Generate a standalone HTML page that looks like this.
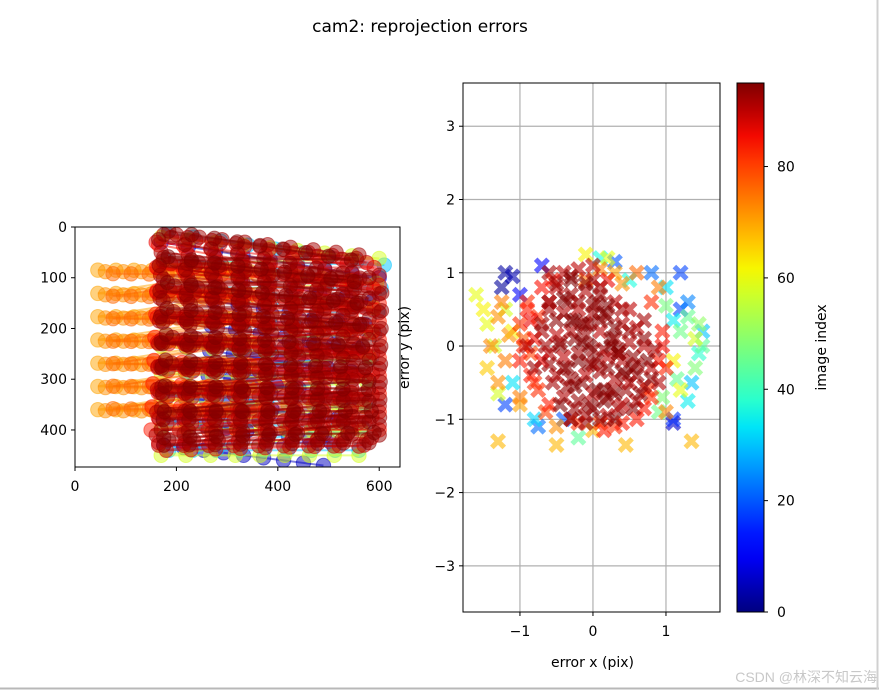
<!DOCTYPE html>
<html><head><meta charset="utf-8">
<style>
html,body{margin:0;padding:0;background:#fff;}
svg{display:block;font-family:"DejaVu Sans","Liberation Sans","Noto Sans CJK SC",sans-serif;}
</style></head>
<body>
<svg id="fig" width="879" height="691" viewBox="0 0 879 691" xmlns="http://www.w3.org/2000/svg">
  <rect x="0" y="0" width="879" height="691" fill="#fff"/>
  <line x1="0" y1="688.5" x2="879" y2="688.5" stroke="#b8b8b8" stroke-width="2"/>
  <line x1="877.5" y1="0" x2="877.5" y2="689" stroke="#d0d0d0" stroke-width="2"/>
  <text x="420" y="32" font-size="17" text-anchor="middle" fill="#000">cam2: reprojection errors</text>
  <defs>
    <clipPath id="clipL"><rect x="75" y="227" width="325" height="240"/></clipPath>
    <clipPath id="clipR"><rect x="463" y="83" width="257" height="529"/></clipPath>
    <linearGradient id="jetGrad" x1="0" y1="1" x2="0" y2="0"></linearGradient>
  </defs>
  <g id="leftPlot"></g>
  <g id="rightPlot"></g>
  <g id="cbar"></g>
  <text x="877" y="682" font-size="14" text-anchor="end" fill="#c8c8c8" font-family="Liberation Sans, Noto Sans CJK SC, sans-serif">CSDN @林深不知云海</text>
</svg>
<script>
// ---------- data ----------
// left plot: checkerboard detections per image [imageIndex]
const boardIndex = [5, 30, 58, 70, 72, 76, 84, 86, 88, 90, 91, 92, 93, 94, 95];
// corners in pixel coords: top-left, top-right, bottom-left, bottom-right (x,y)
const boardTL = [[170,30],[180,12],[170,20],[45,85],[60,88],[75,92],[165,35],[160,30],[190,20],[175,15],[170,50],[200,15],[175,60],[165,25],[185,8]];
const boardTR = [[600,100],[610,75],[600,62],[330,86],[345,88],[360,95],[600,115],[590,80],[575,70],[555,62],[600,95],[560,55],[605,130],[580,100],[545,65]];
const boardBL = [[175,430],[185,440],[170,450],[45,360],[60,362],[75,358],[150,400],[165,425],[180,440],[165,430],[160,410],[185,420],[170,400],[175,430],[175,415]];
const boardBR = [[490,470],[560,440],[560,450],[330,362],[345,364],[360,362],[600,400],[585,415],[570,430],[560,432],[600,390],[575,420],[600,410],[580,425],[590,405]];
const boardRows = [9,9,9,7,7,7,9,9,9,9,9,9,9,9,9];
const gridCols = 9;
// right plot: reprojection errors (pix) with image index
const errX = [-1.2,-1.1,-1.25,1.1,-1.0,-0.7,
 1.2,1.2,0.3,-1.2,-0.4,1.1,0.8,1.3,-0.75,
 1.0,1.1,1.5,-1.1,0.1,-0.8,1.3,0.5,1.45,1.35,
 1.3,1.2,1.5,1.4,-0.2,0.9,1.0,1.15,1.45,0.95,
 -1.6,-1.45,-1.2,-1.1,-1.3,-0.1,0.2,1.2,1.4,1.1,-1.5,-1.35,
 -1.3,-0.5,0.45,1.35,-1.0,0.0,0.3,-1.45,
 -1.3,-1.4,-1.2,-1.3,-0.1,0.1,0.4,-1.0,-0.5,1.0,0.9,-1.15,-1.25,0.6,
 -1.0,-0.9,-0.8,-0.6,-0.3,0.3,0.6,0.8,1.0,-1.0,0.2,-0.7,-0.95,0.95,0.75,-0.85,0.15,
 -0.95,-0.85,-0.75,-0.9,-0.8,-0.7,-0.85,-0.75,-0.65,-0.55,-0.6,0.9,0.95,0.8,0.7,0.1,-0.2,0.4,
 -0.4,-0.2,0,-0.5,-0.3,-0.1,0.1,0.3,-0.6,-0.4,-0.2,0,0.2,0.4,0.6,-0.7,-0.5,-0.3,-0.1,0.1,0.3,0.5,0.7,0.85,
 -0.6,-0.4,-0.2,0,0.2,0.4,0.6,0.8,-0.5,-0.3,-0.1,0.1,0.3,0.5,0.7,-0.4,-0.2,0,0.2,0.4,0.6,-0.1,0.2,-0.8,-0.9,0.0,-0.6,0.9,0.5,0.7,
 -0.35,-0.15,0.05,0.25,-0.45,-0.25,-0.05,0.15,0.35,0.55,-0.35,-0.15,0.05,0.25,0.45,-0.25,-0.05,0.15,0.35,-0.3,0.0,0.3,
 -0.5,-0.3,-0.1,0.1,-0.6,-0.4,-0.2,0.0,0.2,0.4,-0.7,-0.5,-0.3,-0.1,0.1,0.3,0.5,0.7,-0.65,-0.45,-0.25,-0.05,0.15,0.35,0.55,0.75,-0.6,-0.4,-0.2,0.0,0.2,0.4,0.6,0.8,-0.55,-0.35,-0.15,0.05,0.25,0.45,0.65,-0.45,-0.25,-0.05,0.15,0.35,0.55,-0.3,-0.1,0.1,0.3];
const errY = [1.0,0.95,0.8,-1.05,0.7,1.1,
 0.5,1.0,1.15,-0.8,-1.0,-1.0,1.0,0.6,-1.1,
 0.8,0.35,0.2,-0.5,1.2,-1.0,-0.75,0.9,-0.1,-0.5,
 0.4,0.2,0.0,-0.3,-1.25,-0.9,0.55,-0.45,0.3,-0.7,
 0.7,0.3,0.5,0.2,-0.65,1.25,1.2,-0.6,0.1,-0.2,0.5,0.0,
 -1.3,-1.35,-1.35,-1.3,-0.8,-1.15,1.0,-0.3,
 0.4,0.0,-0.2,-0.5,0.9,1.05,0.85,-0.7,-1.1,-0.9,0.8,0.15,0.6,1.0,
 0.3,0.6,-0.5,-0.8,-1.0,-1.1,-1.0,0.6,-0.3,-0.2,0.9,0.8,0.0,0.2,-0.6,0.35,-1.15,
 0.1,-0.1,0.4,0.5,0.1,-0.2,-0.4,-0.6,-0.9,0.9,0.6,-0.2,0.0,-0.7,-0.85,-1.05,-1.05,-1.05,
 1.0,1.05,0.9,0.8,0.7,0.75,0.7,0.6,0.5,0.45,0.5,0.45,0.4,0.3,0.25,0.2,0.15,0.2,0.15,0.2,0.1,0.05,0.0,-0.05,
 -0.1,-0.15,-0.1,-0.05,-0.15,-0.2,-0.25,-0.3,-0.4,-0.45,-0.4,-0.35,-0.45,-0.5,-0.55,-0.7,-0.75,-0.65,-0.7,-0.8,-0.75,-0.95,-0.95,-0.3,0.0,1.1,1.0,-0.5,0.5,0.35,
 0.6,0.3,0.6,0.1,0.0,0.35,-0.25,0.45,-0.05,-0.3,-0.3,0.05,-0.2,0.0,-0.4,-0.55,0.3,-0.6,-0.1,0.9,-0.85,-0.65,
 0.85,0.95,0.85,0.8,0.6,0.65,0.6,0.55,0.55,0.5,0.3,0.35,0.35,0.3,0.35,0.25,0.2,0.1,0.0,0.05,0.1,0.0,-0.05,-0.1,-0.15,-0.2,-0.25,-0.3,-0.2,-0.25,-0.3,-0.35,-0.4,-0.45,-0.5,-0.55,-0.5,-0.6,-0.6,-0.6,-0.65,-0.8,-0.85,-0.8,-0.75,-0.85,-0.85,-1.0,-1.05,-1.0,-1.0];
const errIdx = [3,4,2,6,10,12,
 18,18,20,18,20,16,22,24,22,
 33,34,30,33,36,32,34,36,38,30,
 45,46,44,48,44,46,47,45,50,48,
 60,60,58,62,58,62,60,60,58,62,62,58,
 68,68,68,68,70,68,70,66,
 72,73,74,72,75,74,72,74,72,73,74,72,74,76,
 82,82,82,84,84,82,84,82,83,84,86,85,83,84,82,86,84,
 78,80,82,84,85,86,84,82,80,84,86,84,85,82,84,80,82,84,
 90,90,91,90,92,91,93,90,92,91,90,92,93,91,90,92,90,91,93,90,92,91,90,92,
 91,90,92,93,90,91,92,90,91,93,90,92,91,90,92,91,93,90,92,90,91,92,90,93,91,90,92,91,90,92,
 94,95,94,95,94,95,94,95,94,95,94,95,94,95,94,95,94,95,94,95,94,95,
 93,94,95,92,94,95,93,94,95,92,93,94,95,92,94,95,93,94,92,93,94,95,92,93,94,95,93,94,95,92,94,95,93,94,92,93,94,95,92,93,94,95,93,94,95,92,94,95,93,94,95];
const yTicksL = [0,100,200,300,400];
const xTicksL = [0,200,400,600];
const xTicksR = [-1,0,1];
const yTicksR = [3,2,1,0,-1,-2,-3];
const cbTicks = [0,20,40,60,80];

// ---------- helpers ----------
const NS = "http://www.w3.org/2000/svg";
function mk(tag, attrs, parent){const e=document.createElementNS(NS,tag);for(const k in attrs)e.setAttribute(k,attrs[k]);parent.appendChild(e);return e;}
function lerp(a,b,t){return a+(b-a)*t;}
function piece(pts,t){for(let i=0;i<pts.length-1;i++){const[a,va]=pts[i],[b,vb]=pts[i+1];if(t>=a&&t<=b)return va+(vb-va)*(t-a)/(b-a);}return t<pts[0][0]?pts[0][1]:pts[pts.length-1][1];}
function jet(t){t=Math.max(0,Math.min(1,t));
 const r=piece([[0,0],[0.35,0],[0.66,1],[0.89,1],[1,0.5]],t);
 const g=piece([[0,0],[0.125,0],[0.375,1],[0.64,1],[0.91,0],[1,0]],t);
 const b=piece([[0,0.5],[0.11,1],[0.34,1],[0.65,0],[1,0]],t);
 return `rgb(${Math.round(r*255)},${Math.round(g*255)},${Math.round(b*255)})`;}
const IDXMAX = 95;

// ---------- left plot ----------
const L = document.getElementById('leftPlot');
const Lx0=75, Lx1=400, Ly0=227, Ly1=467, Lxmax=641, Lymax=473;
const sxL = v => Lx0 + v/Lxmax*(Lx1-Lx0);
const syL = v => Ly0 + v/Lymax*(Ly1-Ly0);
const lData = mk('g',{'clip-path':'url(#clipL)'},L);


boardIndex.forEach((idx,bi)=>{
  const col = jet(idx/IDXMAX);
  const g = mk('g',{},lData);
  
  
  const pts=[];
  const rows=boardRows[bi];
  for(let r=0;r<rows;r++){const v=r/(rows-1);
    for(let c=0;c<gridCols;c++){const u=c/(gridCols-1);
      const top=[lerp(boardTL[bi][0],boardTR[bi][0],u),lerp(boardTL[bi][1],boardTR[bi][1],u)];
      const bot=[lerp(boardBL[bi][0],boardBR[bi][0],u),lerp(boardBL[bi][1],boardBR[bi][1],u)];
      pts.push([lerp(top[0],bot[0],v),lerp(top[1],bot[1],v)]);}}
  mk('polyline',{points:pts.map(p=>sxL(p[0])+','+syL(p[1])).join(' '),fill:'none',stroke:col,'stroke-width':2,'stroke-opacity':0.5},g);
  pts.forEach(p=>{const c=mk('circle',{cx:sxL(p[0]),cy:syL(p[1]),r:7.2,fill:col,'fill-opacity':0.5,stroke:col,'stroke-opacity':0.5},g);
    
    });
});
const lf=mk('rect',{x:Lx0,y:Ly0,width:Lx1-Lx0,height:Ly1-Ly0,fill:'none',stroke:'#000','stroke-width':1},L);


yTicksL.forEach(v=>{const y=syL(v);mk('line',{x1:Lx0-4,y1:y,x2:Lx0,y2:y,stroke:'#000'},L);
  const t=mk('text',{x:Lx0-8,y:y+5,'font-size':14,'text-anchor':'end'},L);t.textContent=v;
  
  });
xTicksL.forEach(v=>{const x=sxL(v);mk('line',{x1:x,y1:Ly1,x2:x,y2:Ly1+4,stroke:'#000'},L);
  const t=mk('text',{x:x,y:Ly1+24,'font-size':14,'text-anchor':'middle'},L);t.textContent=v;
  
  });

// ---------- right plot ----------
const R = document.getElementById('rightPlot');
const Rx0=463, Rx1=720, Ry0=83, Ry1=612, Rxmin=-1.78, Rxmax=1.74, Rymin=-3.63, Rymax=3.59;
const sxR = v => Rx0 + (v-Rxmin)/(Rxmax-Rxmin)*(Rx1-Rx0);
const syR = v => Ry1 - (v-Rymin)/(Rymax-Rymin)*(Ry1-Ry0);
xTicksR.forEach(v=>{const g=mk('line',{x1:sxR(v),y1:Ry0,x2:sxR(v),y2:Ry1,stroke:'#b0b0b0','stroke-width':1.2},R);
  
  });
yTicksR.forEach(v=>{const g=mk('line',{x1:Rx0,y1:syR(v),x2:Rx1,y2:syR(v),stroke:'#b0b0b0','stroke-width':1.2},R);
  
  });
const rData = mk('g',{'clip-path':'url(#clipR)'},R);


const order = errIdx.map((v,i)=>i).sort((a,b)=>errIdx[a]-errIdx[b]);
const xs=8, w=3.6;
const xPath = `M${-xs} ${-xs+w}L${-xs+w} ${-xs}L0 ${-w}L${xs-w} ${-xs}L${xs} ${-xs+w}L${w} 0L${xs} ${xs-w}L${xs-w} ${xs}L0 ${w}L${-xs+w} ${xs}L${-xs} ${xs-w}L${-w} 0Z`;
order.forEach(i=>{
  const col=jet(errIdx[i]/IDXMAX);
  const p=mk('path',{d:xPath,transform:`translate(${sxR(errX[i])},${syR(errY[i])})`,fill:col,'fill-opacity':0.6},rData);
  
  
});
const rf=mk('rect',{x:Rx0,y:Ry0,width:Rx1-Rx0,height:Ry1-Ry0,fill:'none',stroke:'#000','stroke-width':1},R);


xTicksR.forEach(v=>{const x=sxR(v);mk('line',{x1:x,y1:Ry1,x2:x,y2:Ry1+4,stroke:'#000'},R);
  const t=mk('text',{x:x,y:Ry1+24,'font-size':14,'text-anchor':'middle'},R);t.textContent=v<0?'\u2212'+Math.abs(v):v;
  
  });
yTicksR.forEach(v=>{const y=syR(v);mk('line',{x1:Rx0-4,y1:y,x2:Rx0,y2:y,stroke:'#000'},R);
  const t=mk('text',{x:Rx0-8,y:y+5,'font-size':14,'text-anchor':'end'},R);t.textContent=v<0?'\u2212'+Math.abs(v):v;
  
  });
const xl=mk('text',{x:(Rx0+Rx1)/2+1,y:667,'font-size':14,'text-anchor':'middle'},R);xl.textContent='error x (pix)';


const yl=mk('text',{x:0,y:0,'font-size':14,'text-anchor':'middle',transform:`translate(409,${(Ry0+Ry1)/2}) rotate(-90)`},R);yl.textContent='error y (pix)';



// ---------- colorbar ----------
const grad=document.getElementById('jetGrad');
for(let k=0;k<=20;k++){mk('stop',{offset:k/20,'stop-color':jet(k/20)},grad);}
const C=document.getElementById('cbar');
const Cx0=737, Cx1=764;
const syC = v => Ry1 - v/IDXMAX*(Ry1-Ry0);
const cb=mk('rect',{x:Cx0,y:Ry0,width:Cx1-Cx0,height:Ry1-Ry0,fill:'url(#jetGrad)',stroke:'#000','stroke-width':1},C);


cbTicks.forEach(v=>{const y=syC(v);mk('line',{x1:Cx1,y1:y,x2:Cx1+4,y2:y,stroke:'#000'},C);
  const t=mk('text',{x:Cx1+13,y:y+5,'font-size':14},C);t.textContent=v;
  
  });
const cl=mk('text',{x:0,y:0,'font-size':14,'text-anchor':'middle',transform:`translate(826,${(Ry0+Ry1)/2}) rotate(-90)`},C);cl.textContent='image index';


</script>
</body></html>
